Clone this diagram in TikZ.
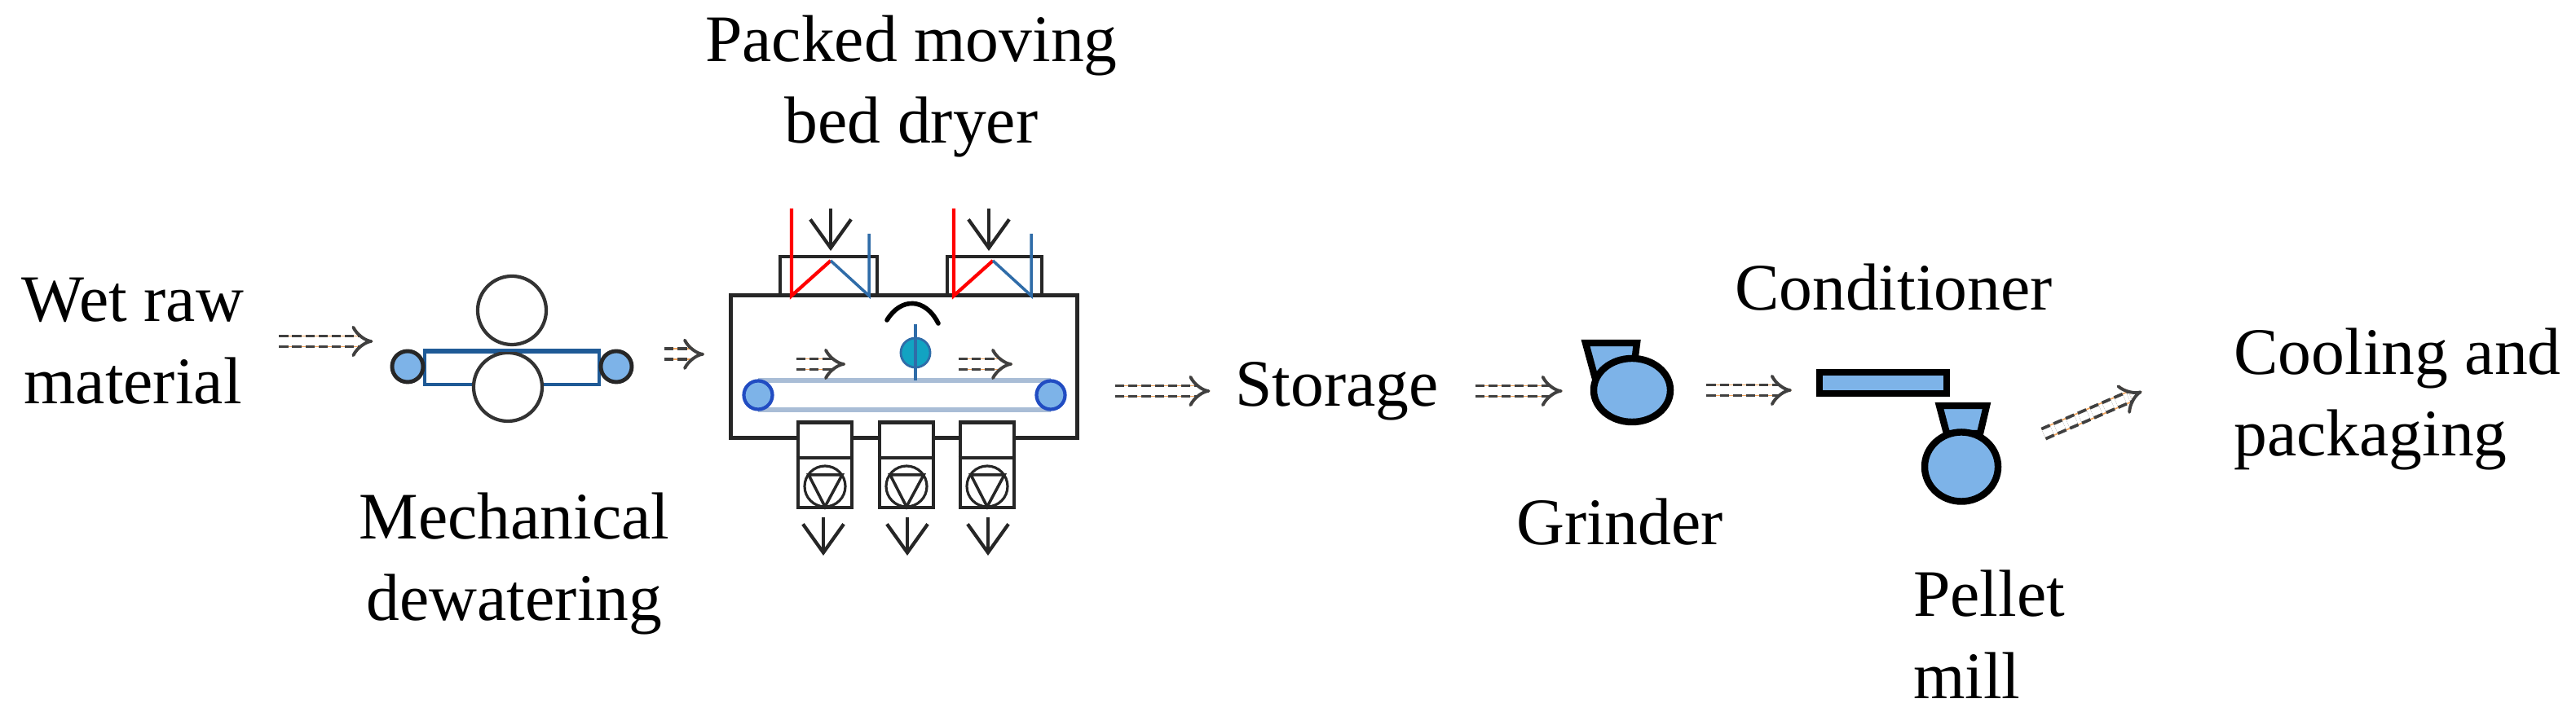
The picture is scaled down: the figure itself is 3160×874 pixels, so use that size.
\documentclass[tikz,border=0pt]{standalone}
\usepackage{fontspec}
\setmainfont{Liberation Serif}
\usepackage{xcolor}
\usetikzlibrary{arrows,arrows.meta,shapes.geometric}
\definecolor{machine}{HTML}{7DB3E8}
\definecolor{paddle}{HTML}{12A3C2}
\definecolor{presslin}{HTML}{1F5A96}
\definecolor{coollin}{HTML}{2F6CA8}
\definecolor{beltlin}{HTML}{A9BDD6}
\definecolor{flowlin}{HTML}{F2A45C}

\begin{document}
\begin{tikzpicture}[x=0.01cm,y=-0.01cm,semithick]
  \tikzstyle{lbl}=[inner sep=0pt,font=\fontsize{23.2}{28.7}\selectfont]
  \tikzstyle{wall}=[draw=black!85,line width=1.4pt]
  \tikzstyle{heavy}=[draw=black,fill=machine,line width=2.4pt]
  \tikzstyle{roller}=[circle,draw=black!80,fill=white,line width=1.2pt,inner sep=0pt,minimum size=0.84cm]
  \tikzstyle{pulley}=[circle,draw=black!85,fill=machine,line width=1.4pt,inner sep=0pt,minimum size=0.38cm]
  \tikzstyle{tail}=[circle,draw=coollin!70!blue,fill=machine,line width=1.2pt,inner sep=0pt,minimum size=0.35cm]
  \tikzstyle{flow}=[draw=black!75,line width=1.1pt,double=white,double distance=2.6pt,dash pattern=on 3.2pt off 1.4pt,-{Implies},
                    preaction={draw=flowlin,solid,line width=0.5pt,double=white,double distance=3.2pt}]
  \tikzstyle{drop}=[draw=black!85,line width=1.2pt,-{Straight Barb[length=0.35cm,width=0.5cm]}]
  \useasboundingbox (0,0) rectangle (3160,874);

  \node[lbl,align=center] (pack)  at (1118,106)  {Packed moving\\bed dryer};
  \node[lbl,align=center] (raw)   at (163,419)   {Wet raw\\material};
  \node[lbl,align=center] (mech)  at (631,692)   {Mechanical\\dewatering};
  \node[lbl]              (store) at (1640,480)  {Storage};
  \node[lbl]              (grind) at (1987,641)  {Grinder};
  \node[lbl]              (cond)  at (2323,353)  {Conditioner};
  \node[lbl,align=left]   (pel)   at (2440,779)  {Pellet\\mill};
  \node[lbl,align=left]   (cool)  at (2941,490)  {Cooling and\\packaging};

  \node[draw=presslin,fill=white,line width=1.2pt,minimum width=2.14cm,minimum height=0.4cm,inner sep=0pt] (plate) at (628,452) {};
  \node[roller] (rolla) at (628,381) {};
  \node[roller] (rollb) at (623,475) {};
  \draw[draw=presslin,line width=1.2pt] (plate.north west) -- (plate.north east);
  \node[pulley] (pl) at (500,450) {};
  \node[pulley] (pr) at (756,450) {};

  \node[wall,fill=white,minimum width=4.25cm,minimum height=1.74cm,inner sep=0pt] (dryer) at (1109,450) {};
  \draw[wall] (957,363) |- (1076,315) -- (1076,363);
  \draw[wall] (1162,363) |- (1278,315) -- (1278,363);
  \draw[red,line width=1.2pt] (971,256) -- (971,363) -- (1019,320);
  \draw[coollin,line width=1pt] (1019,320) -- (1066,363) -- (1066,287);
  \draw[red,line width=1.2pt] (1170,256) -- (1170,363) -- (1218,320);
  \draw[coollin,line width=1pt] (1218,320) -- (1265,363) -- (1265,287);
  \coordinate (ina) at (1019,256);
  \coordinate (inb) at (1019,308);
  \coordinate (inc) at (1213,256);
  \coordinate (ind) at (1213,308);
  \draw[drop] (ina) -- (inb);
  \draw[drop] (inc) -- (ind);

  \draw[beltlin,line width=1.5pt] (930,467) -- (1289,467) (930,503) -- (1289,503);
  \node[tail] (bl) at (930,485) {};
  \node[tail] (br) at (1289,485) {};
  \node[circle,draw=coollin,fill=paddle,line width=0.8pt,inner sep=0pt,minimum size=0.36cm] (stir) at (1123,433) {};
  \draw[coollin,line width=1pt] (1123,398) -- (1123,467);
  \draw[black,line width=1.6pt,line cap=round] (1088,393) .. controls (1105,365) and (1135,365) .. (1151,397);
  \coordinate (moa) at (977,447);
  \coordinate (mob) at (1037,447);
  \coordinate (moc) at (1176,447);
  \coordinate (mod) at (1242,447);
  \draw[flow] (moa) -- (mob);
  \draw[flow] (moc) -- (mod);

  \node[wall,fill=white,minimum width=0.66cm,minimum height=1.04cm,inner sep=0pt] (boxa) at (1012,571) {};
  \node[wall,fill=white,minimum width=0.66cm,minimum height=1.04cm,inner sep=0pt] (boxb) at (1112,571) {};
  \node[wall,fill=white,minimum width=0.66cm,minimum height=1.04cm,inner sep=0pt] (boxc) at (1211,571) {};
  \draw[wall] (boxa.west |- 0,562) -- (boxa.east |- 0,562);
  \draw[wall] (boxb.west |- 0,562) -- (boxb.east |- 0,562);
  \draw[wall] (boxc.west |- 0,562) -- (boxc.east |- 0,562);
  \draw[draw=black!85,line width=0.9pt] (1012,597) circle (25);
  \draw[draw=black!85,line width=0.9pt] (1112,597) circle (25);
  \draw[draw=black!85,line width=0.9pt] (1211,597) circle (25);
  \draw[draw=black!85,line width=1pt] (992,583) -- (1033,583) -- (1012,622) -- cycle;
  \draw[draw=black!85,line width=1pt] (1092,583) -- (1133,583) -- (1112,622) -- cycle;
  \draw[draw=black!85,line width=1pt] (1191,583) -- (1232,583) -- (1211,622) -- cycle;
  \coordinate (outa) at (1010,682);
  \coordinate (outb) at (1113,682);
  \coordinate (outc) at (1212,682);
  \draw[drop] (boxa.south -| outa) ++(0,10) -- (outa);
  \draw[drop] (boxb.south -| outb) ++(0,10) -- (outb);
  \draw[drop] (boxc.south -| outc) ++(0,10) -- (outc);

  \draw[heavy] (1945,421) -- (2008,421) -- (2005,445) -- (1957,465) -- cycle;
  \node[ellipse,heavy,minimum width=0.94cm,minimum height=0.78cm,inner sep=0pt] (mill) at (2002,479) {};
  \node[heavy,minimum width=1.56cm,minimum height=0.26cm,inner sep=0pt] (bar) at (2310,470) {};
  \draw[heavy] (2379,498) -- (2437,498) -- (2429,532) -- (2388,532) -- cycle;
  \node[ellipse,heavy,minimum width=0.90cm,minimum height=0.85cm,inner sep=0pt] (pmill) at (2406,573) {};

  \path (raw.east)  edge[flow,shorten <=12pt,shorten >=6pt] (raw.east -| pl.west);
  \path (pr.45)     edge[flow,shorten <=12.5pt,shorten >=8.5pt] (pr.45 -| dryer.west);
  \path (store.west -| dryer.east) edge[flow,shorten <=12.5pt,shorten >=8.5pt] (store.west);
  \path (store.east) edge[flow,shorten <=12.5pt,shorten >=9.7pt] (store.east -| mill.west);
  \path (mill.east) edge[flow,shorten <=11.4pt,shorten >=8.5pt] (mill.east -| bar.west);
  \path (pmill.20)  edge[flow,shorten <=17pt,shorten >=34.7pt] (cool.164);
\end{tikzpicture}
\end{document}
